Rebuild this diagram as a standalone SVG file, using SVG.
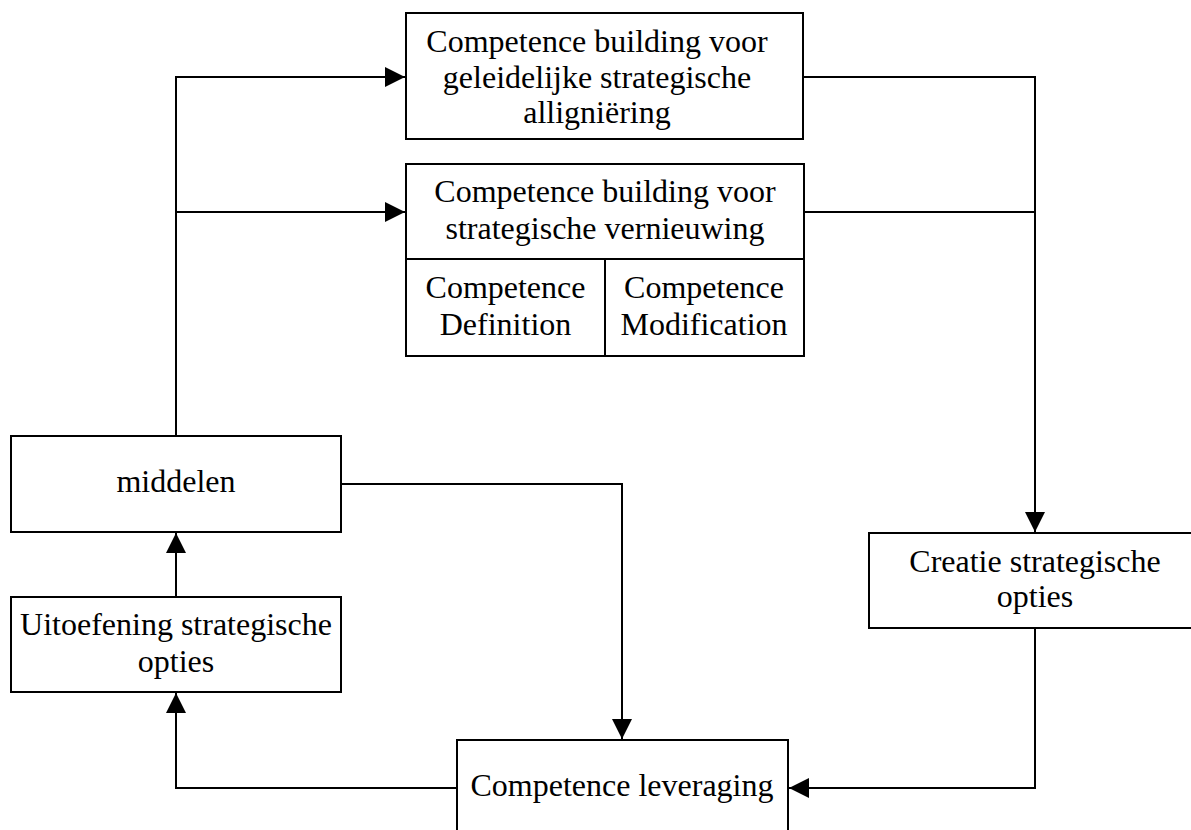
<svg xmlns="http://www.w3.org/2000/svg" width="1191" height="830" viewBox="0 0 1191 830">
  <style>
    .box { fill: #ffffff; stroke: #000000; stroke-width: 2; }
    .div { fill: none; stroke: #000000; stroke-width: 2; }
    .lbl { font-family: "Liberation Serif", "Times New Roman", serif; font-size: 32px; fill: #000000; text-anchor: middle; }
    .conn { fill: none; stroke: #000000; stroke-width: 2; }
  </style>
  <defs>
    <marker id="arrow" markerUnits="userSpaceOnUse" markerWidth="20" markerHeight="20" refX="20" refY="10" orient="auto">
      <path d="M0,0 L20,10 L0,20 z" fill="#000000"/>
    </marker>
  </defs>

  <rect width="1191" height="830" fill="#ffffff"/>

  <g id="connectors">
    <path class="conn" d="M176,597 V533" marker-end="url(#arrow)"/>
    <path class="conn" d="M176,436 V77 H405" marker-end="url(#arrow)"/>
    <path class="conn" d="M176,212 H405" marker-end="url(#arrow)"/>
    <path class="conn" d="M803,77 H1035 V532" marker-end="url(#arrow)"/>
    <path class="conn" d="M804,212 H1035"/>
    <path class="conn" d="M341,484 H622 V739" marker-end="url(#arrow)"/>
    <path class="conn" d="M1035,628 V788 H789" marker-end="url(#arrow)"/>
    <path class="conn" d="M457,788 H176 V693" marker-end="url(#arrow)"/>
  </g>

  <g id="alignment-building">
    <rect class="box" x="406" y="13" width="397" height="126"/>
    <text class="lbl" x="597" y="52">Competence building voor</text>
    <text class="lbl" x="597" y="88">geleidelijke strategische</text>
    <text class="lbl" x="597" y="123">alligniëring</text>
  </g>

  <g id="renewal-building">
    <rect class="box" x="406" y="164" width="398" height="192"/>
    <path class="div" d="M406,259 H804 M605,259 V356"/>
    <text class="lbl" x="605" y="202">Competence building voor</text>
    <text class="lbl" x="605" y="239">strategische vernieuwing</text>
    <text class="lbl" x="505.5" y="298">Competence</text>
    <text class="lbl" x="505.5" y="335">Definition</text>
    <text class="lbl" x="704" y="298">Competence</text>
    <text class="lbl" x="704" y="335">Modification</text>
  </g>

  <g id="middelen">
    <rect class="box" x="11" y="436" width="330" height="96"/>
    <text class="lbl" x="176" y="492">middelen</text>
  </g>

  <g id="uitoefening">
    <rect class="box" x="11" y="597" width="330" height="95"/>
    <text class="lbl" x="176" y="635">Uitoefening strategische</text>
    <text class="lbl" x="176" y="672">opties</text>
  </g>

  <g id="creatie">
    <rect class="box" x="869" y="533" width="332" height="95"/>
    <text class="lbl" x="1035" y="572">Creatie strategische</text>
    <text class="lbl" x="1035" y="607">opties</text>
  </g>

  <g id="leveraging">
    <rect class="box" x="457" y="740" width="331" height="100"/>
    <text class="lbl" x="622" y="796">Competence leveraging</text>
  </g>
</svg>
